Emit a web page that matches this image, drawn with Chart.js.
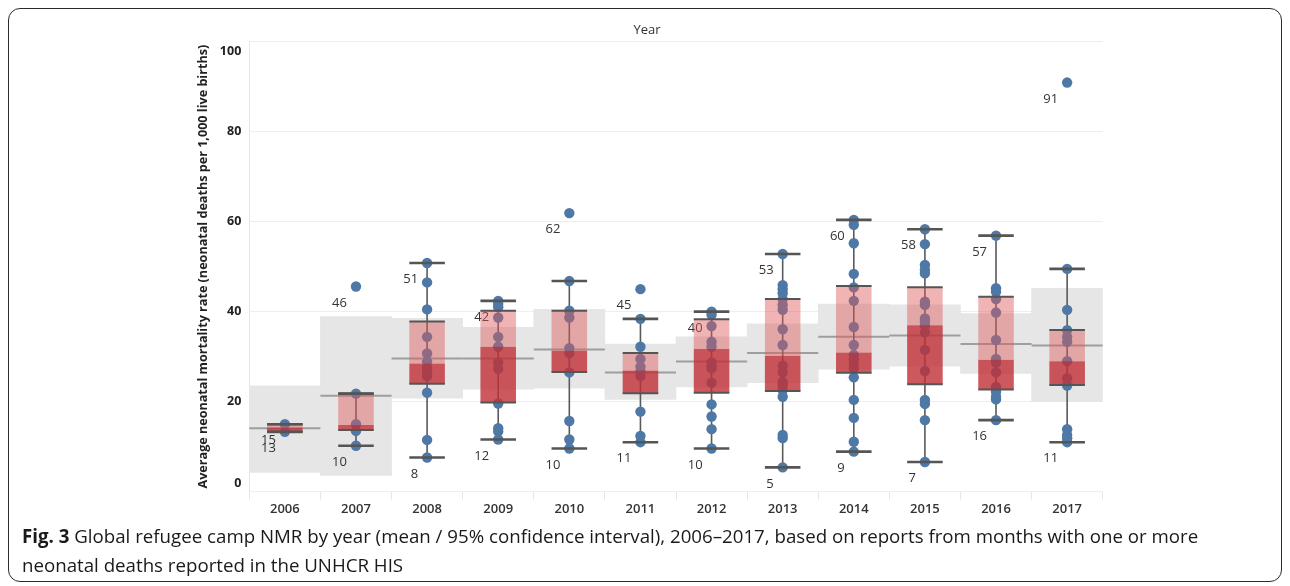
<!DOCTYPE html>
<html>
<head>
<meta charset="utf-8">
<script src="https://cdn.jsdelivr.net/npm/chart.js@4.4.1/dist/chart.umd.min.js"></script>
<style>
  html, body { margin: 0; padding: 0; background: #fff; width: 1290px; height: 586px; overflow: hidden; }
  #frame { position: absolute; left: 8px; top: 8px; width: 1274px; height: 574px; border: 1.5px solid #2b2b2b; border-radius: 12px; box-sizing: border-box; }
  #wrap { position: absolute; left: 0; top: 0; width: 1290px; height: 586px; }
  #caption { position: absolute; left: 22px; top: 521px; font-family: 'Open Sans', sans-serif; font-size: 18.7px; line-height: 29px; color: #1a1a1a; white-space: nowrap; }
  #caption b { font-weight: 700; }
</style>
</head>
<body>
<div id="frame"></div>
<div id="wrap"><canvas id="c" width="1290" height="586"></canvas></div>
<div id="caption"><b>Fig. 3</b> Global refugee camp NMR by year (mean / 95% confidence interval), 2006–2017, based on reports from months with one or more<br>neonatal deaths reported in the UNHCR HIS</div>
<script>
// Reporting years
const years = ['2006', '2007', '2008', '2009', '2010', '2011', '2012', '2013', '2014', '2015', '2016', '2017'];

// Monthly camp NMR values per year (neonatal deaths per 1,000 live births)
const pts2006 = [15.0, 13.3];
const pts2007 = [45.6, 21.8, 15.0, 13.5, 10.2];
const pts2008 = [50.8, 46.5, 40.5, 34.4, 30.7, 28.9, 27.6, 26.5, 25.7, 22.0, 11.5, 7.6];
const pts2009 = [42.4, 41.7, 41.0, 38.7, 34.4, 32.2, 28.7, 27.3, 19.6, 14.1, 13.4, 11.6];
const pts2010 = [61.9, 46.8, 40.2, 38.7, 31.9, 30.8, 26.5, 15.7, 11.6, 9.6];
const pts2011 = [45.0, 38.4, 32.2, 29.5, 27.8, 26.7, 25.7, 17.8, 12.4, 11.0];
const pts2012 = [40.0, 39.3, 36.8, 33.3, 32.2, 28.7, 28.0, 27.4, 24.2, 19.4, 16.7, 13.9, 9.6];
const pts2013 = [52.8, 45.9, 45.0, 44.1, 42.8, 41.5, 40.4, 36.1, 32.6, 28.0, 26.5, 24.4, 23.6, 22.6, 21.1, 12.6, 11.9, 5.4];
const pts2014 = [60.4, 59.3, 55.2, 48.4, 45.4, 42.4, 36.6, 32.6, 30.4, 29.4, 28.5, 27.4, 25.4, 20.4, 16.4, 11.1, 8.9];
const pts2015 = [58.3, 55.0, 50.4, 49.3, 48.5, 42.2, 41.5, 38.5, 37.8, 36.9, 35.4, 31.5, 26.8, 20.4, 19.5, 15.9, 6.6];
const pts2016 = [56.9, 45.2, 44.4, 42.8, 39.8, 33.7, 29.5, 28.7, 26.5, 23.3, 22.2, 21.1, 20.5, 15.9];
const pts2017 = [90.9, 49.5, 40.4, 35.9, 34.4, 33.3, 29.0, 25.2, 23.6, 13.9, 12.6, 11.9, 11.0];
const pointSets = [pts2006, pts2007, pts2008, pts2009, pts2010, pts2011, pts2012, pts2013, pts2014, pts2015, pts2016, pts2017];

// Mean and 95% confidence interval per year
const means  = [14.1, 21.3, 29.6, 29.6, 31.6, 26.5, 28.9, 30.8, 34.4, 34.7, 32.8, 32.5];
const ciLow  = [4.3, 3.6, 20.8, 22.8, 23.0, 20.5, 23.3, 24.2, 27.2, 27.9, 26.3, 20.0];
const ciHigh = [23.5, 38.9, 38.5, 36.5, 40.5, 32.8, 34.4, 37.3, 41.7, 41.5, 39.6, 45.2];

// Box plot statistics per year
const q1          = [13.3, 13.7, 24.0, 19.8, 26.6, 21.9, 22.0, 22.4, 26.4, 23.9, 22.7, 23.7];
const medians     = [14.2, 14.8, 28.5, 32.2, 31.3, 26.9, 31.7, 30.2, 30.9, 37.0, 29.3, 29.0];
const q3          = [15.0, 21.8, 37.8, 40.2, 40.2, 30.8, 38.3, 42.8, 45.7, 45.4, 43.3, 35.9];
const whiskerLow  = [13.3, 10.2, 7.6, 11.6, 9.6, 11.0, 9.6, 5.4, 8.9, 6.6, 15.9, 11.0];
const whiskerHigh = [15.0, 21.8, 50.8, 42.4, 46.8, 38.4, 40.0, 52.8, 60.4, 58.3, 56.9, 49.5];

// Value axis ticks
const yTicks = [0, 20, 40, 60, 80, 100];

const pointData = [];
pointSets.forEach((arr, i) => arr.forEach(v => pointData.push({ x: years[i], y: v })));
const ciBars   = years.map((_, i) => [ciLow[i], ciHigh[i]]);
const lowerBox = years.map((_, i) => [q1[i], medians[i]]);
const upperBox = years.map((_, i) => [medians[i], q3[i]]);

const FONT = "'Open Sans', 'DejaVu Sans', sans-serif";

// Draws mean lines, whiskers, min/max labels, box edges and the value-axis labels
const boxPlotLayers = {
  id: 'boxPlotLayers',
  beforeDatasetDraw(chart, args) {
    if (chart.data.datasets[args.index].label !== 'points') return;
    const { ctx } = chart;
    const xs = chart.scales.x, ys = chart.scales.y;
    const bandMeta = chart.getDatasetMeta(0);
    ctx.save();
    // mean lines across each year's band
    ctx.strokeStyle = '#9e9e9e';
    ctx.lineWidth = 2;
    years.forEach((_, i) => {
      const cx = xs.getPixelForValue(i);
      const hw = bandMeta.data[i].width / 2;
      const y = ys.getPixelForValue(means[i]);
      ctx.beginPath();
      ctx.moveTo(cx - hw, y);
      ctx.lineTo(cx + hw, y);
      ctx.stroke();
    });
    // whisker stems
    ctx.strokeStyle = '#595959';
    ctx.lineWidth = 1.6;
    years.forEach((_, i) => {
      const cx = xs.getPixelForValue(i);
      ctx.beginPath();
      ctx.moveTo(cx, ys.getPixelForValue(whiskerLow[i]));
      ctx.lineTo(cx, ys.getPixelForValue(whiskerHigh[i]));
      ctx.stroke();
    });
    // min / max value labels
    ctx.fillStyle = '#333';
    ctx.font = '13px ' + FONT;
    ctx.textAlign = 'right';
    ctx.textBaseline = 'middle';
    pointSets.forEach((arr, i) => {
      const cx = xs.getPixelForValue(i);
      const hi = Math.max(...arr), lo = Math.min(...arr);
      ctx.fillText(String(Math.round(hi)), cx - 9, ys.getPixelForValue(hi) + 16.5);
      ctx.fillText(String(Math.round(lo)), cx - 9, ys.getPixelForValue(lo) + 16.5);
    });
    ctx.restore();
  },
  afterDatasetsDraw(chart) {
    const { ctx } = chart;
    const xs = chart.scales.x, ys = chart.scales.y;
    const boxMeta = chart.getDatasetMeta(3);
    ctx.save();
    ctx.strokeStyle = '#555';
    years.forEach((_, i) => {
      const cx = xs.getPixelForValue(i);
      const hw = boxMeta.data[i].width / 2;
      [[q1[i], 2], [q3[i], 2], [whiskerLow[i], 2.6], [whiskerHigh[i], 2.6]].forEach(([v, w]) => {
        const y = ys.getPixelForValue(v);
        ctx.lineWidth = w;
        ctx.beginPath();
        ctx.moveTo(cx - hw, y);
        ctx.lineTo(cx + hw, y);
        ctx.stroke();
      });
    });
    ctx.restore();
  },
  afterDraw(chart) {
    const { ctx, chartArea } = chart;
    const ys = chart.scales.y;
    ctx.save();
    ctx.fillStyle = '#222';
    ctx.font = 'bold 12.5px ' + FONT;
    ctx.textAlign = 'right';
    ctx.textBaseline = 'middle';
    yTicks.forEach(v => {
      let y = ys.getPixelForValue(v);
      y = Math.min(Math.max(y, chartArea.top + 9.5), chartArea.bottom - 8.5);
      ctx.fillText(String(v), chartArea.left - 8, y);
    });
    ctx.restore();
  }
};

new Chart(document.getElementById('c'), {
  type: 'bar',
  data: {
    labels: years,
    datasets: [
      { label: 'ci', type: 'bar', data: ciBars, backgroundColor: '#e6e6e6', borderWidth: 0,
        barPercentage: 1, categoryPercentage: 1, grouped: false, order: 5 },
      { label: 'points', type: 'line', data: pointData, showLine: false, pointRadius: 5.2,
        pointBackgroundColor: '#4e79a7', pointBorderWidth: 0, pointHoverRadius: 5.2, order: 3 },
      { label: 'lower', type: 'bar', data: lowerBox, backgroundColor: 'rgba(192,48,55,0.8)', borderWidth: 0,
        barPercentage: 0.5, categoryPercentage: 1, grouped: false, order: 2 },
      { label: 'upper', type: 'bar', data: upperBox, backgroundColor: 'rgba(222,89,92,0.45)', borderWidth: 0,
        barPercentage: 0.5, categoryPercentage: 1, grouped: false, order: 1 }
    ]
  },
  options: {
    responsive: false,
    animation: false,
    devicePixelRatio: 1,
    layout: { padding: { left: 191.4, right: 187.3, top: 0, bottom: 64.3 } },
    plugins: {
      legend: { display: false },
      tooltip: { enabled: false },
      title: { display: true, text: 'Year', color: '#333',
        font: { family: FONT, size: 13, weight: 'normal' }, padding: { top: 22, bottom: 4 } }
    },
    scales: {
      x: {
        type: 'category', offset: true,
        grid: { offset: true, drawOnChartArea: false, drawTicks: true, tickLength: 8, color: '#e6e6e6' },
        border: { display: false },
        ticks: { color: '#333', font: { family: FONT, size: 13, weight: '600' }, padding: 2 },
        afterFit(s) { s.height = 30; }
      },
      y: {
        min: 0, max: 100,
        ticks: { stepSize: 20, display: false },
        grid: { color: '#eeeeee', drawTicks: false },
        border: { display: true, color: '#e6e6e6' },
        title: { display: true, text: 'Average neonatal mortality rate (neonatal deaths per 1,000 live births)',
          color: '#222', font: { family: FONT, size: 12.6, weight: 'bold' }, padding: { top: 4, bottom: 4 } },
        afterFit(s) { s.width = 57.9; }
      }
    }
  },
  plugins: [boxPlotLayers]
});
</script>
</body>
</html>
